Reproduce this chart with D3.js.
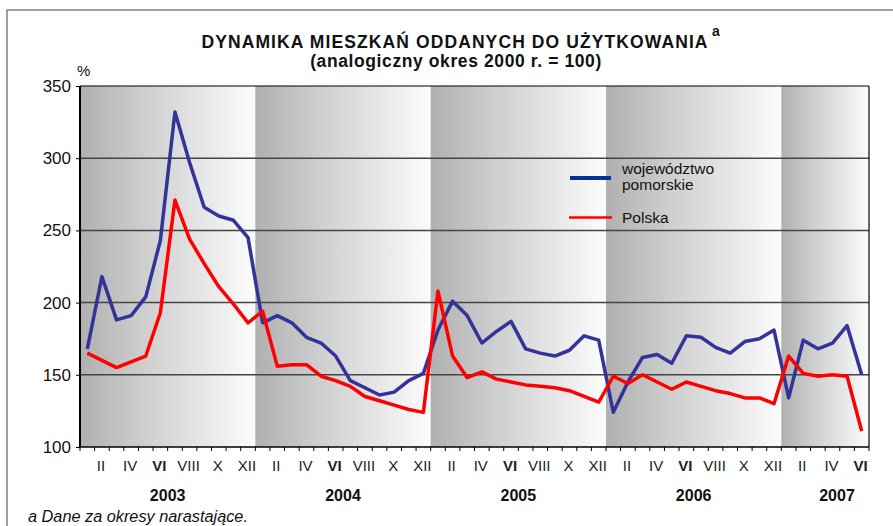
<!DOCTYPE html>
<html>
<head>
<meta charset="utf-8">
<script src="https://cdn.jsdelivr.net/npm/d3@7"></script>
<style>
  body { margin: 0; background: #fff; }
  svg { display: block; font-family: "Liberation Sans", Arial, sans-serif; }
</style>
</head>
<body>
<svg id="chart" width="893" height="526"></svg>
<script>
// --- dane ---
const years = [2003, 2004, 2005, 2006, 2007];
const monthNames = ["I","II","III","IV","V","VI","VII","VIII","IX","X","XI","XII"];
const monthsIn2007 = 6;
const yTicks = [100, 150, 200, 250, 300, 350];

const pomorskie = [
  168, 218, 188, 191, 204, 243, 332, 297, 266, 260, 257, 245,
  186, 191, 186, 176, 172, 163, 146, 141, 136, 138, 146, 151,
  181, 201, 191, 172, 180, 187, 168, 165, 163, 167, 177, 174,
  124, 145, 162, 164, 158, 177, 176, 169, 165, 173, 175, 181,
  134, 174, 168, 172, 184, 150
];
const polska = [
  165, 160, 155, 159, 163, 193, 271, 244, 227, 211, 199, 186,
  194, 156, 157, 157, 149, 146, 142, 135, 132, 129, 126, 124,
  208, 163, 148, 152, 147, 145, 143, 142, 141, 139, 135, 131,
  149, 144, 150, 145, 140, 145, 142, 139, 137, 134, 134, 130,
  163, 151, 149, 150, 149, 111
];

// okresy: rok + miesiąc dla każdego punktu
const periods = [];
years.forEach(y => {
  const n = y === 2007 ? monthsIn2007 : 12;
  for (let m = 0; m < n; m++) periods.push({ year: y, month: m });
});

const svg = d3.select("#chart");

// ramka zewnętrzna
svg.append("rect")
  .attr("x", 7).attr("y", 10)
  .attr("width", 900).attr("height", 540)
  .attr("fill", "none")
  .attr("stroke", "#808080")
  .attr("stroke-width", 1.5);

// skale
const plot = { left: 80, right: 869, top: 86, bottom: 447 };

const x = d3.scaleBand()
  .domain(d3.range(periods.length))
  .range([plot.left, plot.right])
  .padding(0);

const y = d3.scaleLinear()
  .domain([100, 350])
  .range([plot.bottom, plot.top]);

// gradient tła dla każdego roku
const defs = svg.append("defs");
const grad = defs.append("linearGradient")
  .attr("id", "yearGrad")
  .attr("x1", "0").attr("x2", "1").attr("y1", "0").attr("y2", "0");
grad.append("stop").attr("offset", "0%").attr("stop-color", "#b0b0b0");
grad.append("stop").attr("offset", "35%").attr("stop-color", "#cdcdcd");
grad.append("stop").attr("offset", "100%").attr("stop-color", "#fcfcfc");

const yearSpans = years.map(yr => {
  const idx = periods.map((p, i) => p.year === yr ? i : -1).filter(i => i >= 0);
  return { year: yr, x0: x(idx[0]), x1: x(idx[idx.length - 1]) + x.bandwidth() };
});

svg.append("g")
  .selectAll("rect")
  .data(yearSpans)
  .join("rect")
  .attr("x", d => d.x0)
  .attr("y", y(350))
  .attr("width", d => d.x1 - d.x0)
  .attr("height", y(100) - y(350))
  .attr("fill", "url(#yearGrad)");

// linie siatki
svg.append("g")
  .selectAll("line")
  .data(yTicks.filter(t => t > 100 && t < 350))
  .join("line")
  .attr("x1", plot.left).attr("x2", plot.right)
  .attr("y1", d => y(d)).attr("y2", d => y(d))
  .attr("stroke", "#444")
  .attr("stroke-width", 1.5);

// górna i prawa krawędź
svg.append("line")
  .attr("x1", plot.left).attr("x2", plot.right)
  .attr("y1", y(350)).attr("y2", y(350))
  .attr("stroke", "#000").attr("stroke-width", 1.2);
svg.append("line")
  .attr("x1", plot.right).attr("x2", plot.right)
  .attr("y1", y(350)).attr("y2", y(100))
  .attr("stroke", "#000").attr("stroke-width", 1.2);

// oś Y
const yAxis = svg.append("g")
  .attr("transform", `translate(${plot.left},0)`)
  .call(d3.axisLeft(y).tickValues(yTicks).tickSize(4).tickPadding(5));
yAxis.select(".domain").attr("stroke-width", 2).attr("d", `M0,${y(350)}V${y(100)}`);
yAxis.selectAll("text")
  .attr("font-size", 17)
  .attr("fill", "#111")
  .attr("font-family", "Liberation Sans, Arial, sans-serif");

// oś X
const xAxisG = svg.append("g");
xAxisG.append("line")
  .attr("x1", plot.left).attr("x2", plot.right)
  .attr("y1", plot.bottom).attr("y2", plot.bottom)
  .attr("stroke", "#000").attr("stroke-width", 1.5);
xAxisG.selectAll("line.tick")
  .data(d3.range(periods.length + 1))
  .join("line")
  .attr("class", "tick")
  .attr("x1", i => plot.left + i * x.step())
  .attr("x2", i => plot.left + i * x.step())
  .attr("y1", plot.bottom).attr("y2", plot.bottom + 4)
  .attr("stroke", "#000");

xAxisG.selectAll("text.month")
  .data(periods.filter(p => p.month % 2 === 1))
  .join("text")
  .attr("class", "month")
  .attr("x", p => x(periods.indexOf(p)) + x.bandwidth() / 2 - 1)
  .attr("y", 471)
  .attr("text-anchor", "middle")
  .attr("font-size", 15)
  .attr("font-weight", p => p.month === 5 ? "bold" : "normal")
  .attr("fill", "#222")
  .text(p => monthNames[p.month]);

xAxisG.selectAll("text.year")
  .data(yearSpans)
  .join("text")
  .attr("class", "year")
  .attr("x", d => d.year === 2007 ? d.x1 - 32 : (d.x0 + d.x1) / 2)
  .attr("y", 501)
  .attr("text-anchor", "middle")
  .attr("font-size", 16)
  .attr("font-weight", "bold")
  .attr("fill", "#111")
  .text(d => d.year);

// linie danych
const line = d3.line()
  .x((d, i) => x(i) + x.bandwidth() / 2)
  .y(d => y(d));

svg.append("path")
  .datum(pomorskie)
  .attr("d", line)
  .attr("fill", "none")
  .attr("stroke", "#333399")
  .attr("stroke-width", 3.5)
  .attr("stroke-linejoin", "round");

svg.append("path")
  .datum(polska)
  .attr("d", line)
  .attr("fill", "none")
  .attr("stroke", "#ff0000")
  .attr("stroke-width", 3.5)
  .attr("stroke-linejoin", "round");

// legenda
const legend = svg.append("g").attr("font-size", 15.5).attr("fill", "#111");
legend.append("line")
  .attr("x1", 570).attr("x2", 611).attr("y1", 178).attr("y2", 178)
  .attr("stroke", "#003399").attr("stroke-width", 4);
legend.append("text").attr("x", 622).attr("y", 173.5).text("województwo");
legend.append("text").attr("x", 622).attr("y", 189.5).text("pomorskie");
legend.append("line")
  .attr("x1", 569).attr("x2", 612).attr("y1", 217.5).attr("y2", 217.5)
  .attr("stroke", "#ff0000").attr("stroke-width", 2.5);
legend.append("text").attr("x", 622).attr("y", 222.5).text("Polska");

// tytuł
svg.append("text")
  .attr("x", 455).attr("y", 47.5)
  .attr("text-anchor", "middle")
  .attr("font-size", 17.5).attr("font-weight", "bold").attr("fill", "#111")
  .attr("letter-spacing", 1.1)
  .text("DYNAMIKA MIESZKAŃ ODDANYCH DO UŻYTKOWANIA");
svg.append("text")
  .attr("x", 712).attr("y", 36)
  .attr("font-size", 14).attr("font-weight", "bold").attr("fill", "#111")
  .text("a");
svg.append("text")
  .attr("x", 456).attr("y", 67)
  .attr("text-anchor", "middle")
  .attr("font-size", 17.5).attr("font-weight", "bold").attr("fill", "#111")
  .attr("letter-spacing", 0.6)
  .text("(analogiczny okres 2000 r. = 100)");

svg.append("text")
  .attr("x", 77).attr("y", 76)
  .attr("font-size", 15).attr("fill", "#111")
  .text("%");

// przypis
svg.append("text")
  .attr("x", 28).attr("y", 522)
  .attr("font-size", 16.3).attr("font-style", "italic").attr("fill", "#111")
  .text("a Dane za okresy narastające.");
</script>
</body>
</html>
